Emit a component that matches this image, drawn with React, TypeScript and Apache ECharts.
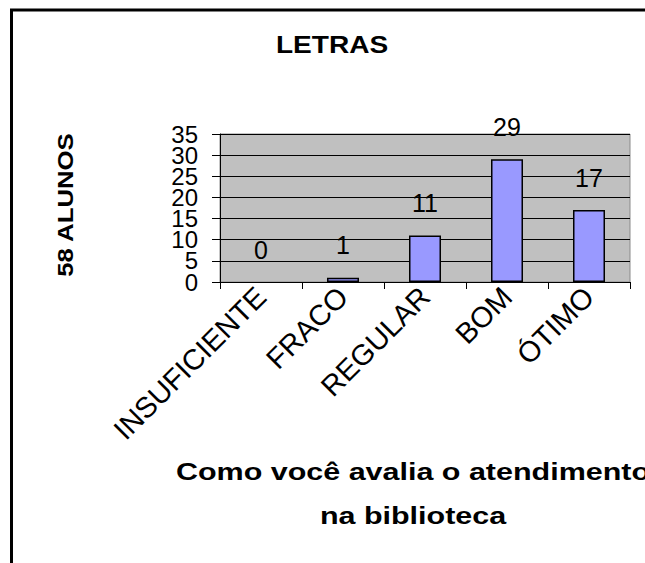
import React, { useEffect, useRef } from "react";
import * as echarts from "echarts";

const categories = ["INSUFICIENTE", "FRACO", "REGULAR", "BOM", "ÓTIMO"];
const values = [0, 1, 11, 29, 17];
const chartTitle = "LETRAS";
const yName = "58 ALUNOS";
const xNameLines = ["Como você avalia o atendimento", "na biblioteca"];
const yTickValues = [0, 5, 10, 15, 20, 25, 30, 35];
const yMax = 35;
const yInterval = 5;

const FONT = "'Liberation Sans', Arial, Helvetica, sans-serif";

export default function App() {
  const ref = useRef<HTMLDivElement>(null);
  useEffect(() => {
    if (!ref.current) return;
    const chart = echarts.init(ref.current, null, { renderer: "svg" });
    // split tick labels into two interleaved groups so overlapping labels are all kept
    const groupA = yTickValues.filter((_, i) => i % 2 === 0);
    const groupB = yTickValues.filter((_, i) => i % 2 === 1);
    const labelStyle = {
      fontSize: 24,
      color: "#000",
      margin: 22,
      fontFamily: FONT,
    };
    const barData = values.map((v) => ({
      value: v,
      itemStyle: { borderWidth: v === 0 ? 0 : 1.5 },
    }));
    chart.setOption({
      animation: false,
      backgroundColor: "#ffffff",
      textStyle: { fontFamily: FONT },
      grid: {
        left: 220,
        right: 15,
        top: 134,
        bottom: 281,
        show: true,
        backgroundColor: "#C0C0C0",
        borderColor: "#8a8a8a",
        borderWidth: 1,
      },
      xAxis: {
        type: "category",
        data: categories,
        axisLine: { lineStyle: { color: "#000", width: 1 } },
        axisTick: { show: true, length: 7, lineStyle: { color: "#000" } },
        axisLabel: {
          rotate: 45,
          margin: 10,
          fontSize: 29,
          color: "#000",
          fontFamily: FONT,
          interval: 0,
        },
      },
      yAxis: [
        {
          type: "value",
          position: "left",
          min: 0,
          max: yMax,
          interval: yInterval,
          axisLine: { show: true, lineStyle: { color: "#000", width: 1 } },
          axisTick: { show: true, length: 8, lineStyle: { color: "#000" } },
          splitLine: { show: true, lineStyle: { color: "#000", width: 1 } },
          axisLabel: { ...labelStyle, customValues: groupA },
        },
        {
          type: "value",
          position: "left",
          offset: 0,
          min: 0,
          max: yMax,
          interval: yInterval,
          axisLine: { show: false },
          axisTick: { show: false },
          splitLine: { show: false },
          axisLabel: { ...labelStyle, customValues: groupB },
        },
      ],
      series: [
        {
          type: "bar",
          data: barData,
          yAxisIndex: 0,
          barWidth: 32,
          itemStyle: { color: "#9999FF", borderColor: "#000", borderWidth: 1.5 },
          label: {
            show: true,
            position: "top",
            distance: 20,
            fontSize: 25,
            color: "#000",
            fontFamily: FONT,
          },
        },
      ],
      graphic: [
        {
          type: "polyline",
          shape: { points: [[11.5, 563], [11.5, 10], [645, 10]] },
          style: { fill: "none", stroke: "#000", lineWidth: 3 },
          silent: true,
        },
        {
          type: "text",
          x: 332,
          y: 45,
          scaleX: 1.22,
          style: {
            text: chartTitle,
            font: `bold 23px ${FONT}`,
            fill: "#000",
            align: "center",
            verticalAlign: "middle",
          },
        },
        {
          type: "text",
          x: 65,
          y: 205,
          rotation: Math.PI / 2,
          scaleX: 1.12,
          style: {
            text: yName,
            font: `bold 23px ${FONT}`,
            fill: "#000",
            align: "center",
            verticalAlign: "middle",
          },
        },
        {
          type: "text",
          x: 413,
          y: 472,
          scaleX: 1.27,
          style: {
            text: xNameLines[0],
            font: `bold 24px ${FONT}`,
            fill: "#000",
            align: "center",
            verticalAlign: "middle",
          },
        },
        {
          type: "text",
          x: 413,
          y: 516,
          scaleX: 1.27,
          style: {
            text: xNameLines[1],
            font: `bold 24px ${FONT}`,
            fill: "#000",
            align: "center",
            verticalAlign: "middle",
          },
        },
      ],
    });
    return () => chart.dispose();
  }, []);
  return (
    <div
      ref={ref}
      style={{ position: "absolute", left: 0, top: 0, width: 645, height: 563 }}
    />
  );
}
